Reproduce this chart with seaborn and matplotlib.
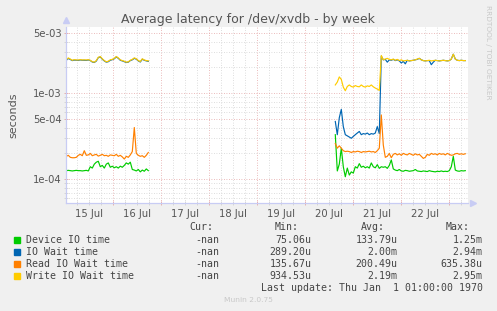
import pandas as pd
import seaborn as sns
import matplotlib.pyplot as plt
import matplotlib.dates as mdates
from matplotlib.ticker import FixedLocator, FuncFormatter, NullFormatter
from matplotlib.patches import Rectangle

# hourly samples (microseconds); munin had data in two stretches with a gap
left_start = "2024-07-15 00:30"
right_start = "2024-07-20 15:00"

device_left = [126, 127, 126, 125, 126, 127, 126, 126, 125, 126, 127, 125, 140, 135,
               150, 158, 162, 140, 145, 135, 150, 155, 138, 142, 136, 140, 135, 142,
               138, 145, 155, 150, 158, 130, 128, 125, 130, 122, 128, 124, 132, 126]
device_right = [330, 125, 150, 230, 140, 107, 135, 112, 122, 118, 140, 135, 152, 138,
                142, 136, 140, 135, 155, 140, 136, 148, 134, 140, 138, 140, 134, 145,
                168, 132, 128, 126, 130, 125, 124, 127, 126, 124, 125, 126, 130, 125,
                124, 123, 125, 124, 123, 126, 124, 123, 122, 124, 123, 125, 123, 124,
                123, 126, 140, 185, 128, 125, 124, 126, 125, 126]

iowait_left = [2420, 2540, 2470, 2400, 2430, 2420, 2410, 2440, 2420, 2420, 2410, 2440,
               2400, 2310, 2280, 2370, 2600, 2650, 2490, 2380, 2300, 2330, 2420, 2460,
               2520, 2650, 2550, 2420, 2380, 2330, 2280, 2300, 2400, 2450, 2550, 2490,
               2380, 2310, 2490, 2420, 2380, 2350]
iowait_right = [470, 330, 520, 650, 410, 330, 320, 310, 300, 315, 330, 345, 360, 330,
                340, 335, 345, 330, 340, 335, 345, 410, 340, 2700, 2450, 2480, 2300, 2450,
                2420, 2480, 2400, 2450, 2380, 2250, 2350, 2200, 2420, 2380, 2400, 2420,
                2450, 2480, 2550, 2450, 2400, 2380, 2400, 2400, 2150, 2300, 2420, 2400,
                2380, 2400, 2420, 2400, 2380, 2400, 2500, 2850, 2500, 2420, 2400, 2420,
                2400, 2400]

read_left = [185, 190, 180, 178, 178, 180, 190, 195, 188, 215, 190, 192, 200, 188,
             192, 195, 186, 190, 195, 188, 190, 185, 192, 190, 188, 195, 185, 190,
             182, 172, 185, 180, 192, 210, 400, 200, 190, 185, 188, 180, 190, 205]
read_right = [260, 230, 245, 230, 215, 210, 212, 210, 205, 210, 208, 212, 210, 205,
              210, 208, 210, 212, 208, 210, 205, 215, 230, 560, 250, 180, 185, 200,
              178, 195, 200, 192, 198, 190, 200, 195, 192, 200, 195, 190, 198, 192,
              195, 185, 175, 180, 195, 190, 200, 195, 198, 192, 200, 195, 198, 192,
              200, 195, 190, 192, 198, 200, 195, 198, 195, 198]

write_left = [2450, 2580, 2500, 2420, 2460, 2440, 2440, 2460, 2440, 2450, 2440, 2460,
              2420, 2330, 2300, 2400, 2620, 2680, 2520, 2400, 2320, 2360, 2450, 2480,
              2550, 2680, 2580, 2450, 2400, 2360, 2300, 2320, 2420, 2480, 2580, 2520,
              2400, 2340, 2520, 2440, 2400, 2380]
write_right = [1250, 1350, 1550, 1450, 1180, 1070, 1200, 1250, 1200, 1180, 1230, 1200,
               1190, 1250, 1200, 1180, 1220, 1200, 1250, 1190, 1150, 1120, 1080, 2750,
               2450, 2500, 2550, 2480, 2450, 2500, 2420, 2480, 2400, 2450, 2380, 2400,
               2420, 2380, 2400, 2420, 2450, 2500, 2550, 2450, 2400, 2380, 2400, 2420,
               2380, 2400, 2420, 2400, 2380, 2400, 2420, 2400, 2380, 2400, 2500, 2850,
               2500, 2420, 2400, 2420, 2400, 2400]

names = ["Device IO time", "IO Wait time", "Read IO Wait time", "Write IO Wait time"]
colors = ["#00CC00", "#0066B3", "#FF8000", "#FFCC00"]
cur = ["-nan", "-nan", "-nan", "-nan"]
mins = ["75.06u", "289.20u", "135.67u", "934.53u"]
avgs = ["133.79u", "2.00m", "200.49u", "2.19m"]
maxs = ["1.25m", "2.94m", "635.38u", "2.95m"]

series = {
    names[0]: (device_left, device_right),
    names[1]: (iowait_left, iowait_right),
    names[2]: (read_left, read_right),
    names[3]: (write_left, write_right),
}

frames = []
for name, (left, right) in series.items():
    for seg, start, vals in (("a", left_start, left), ("b", right_start, right)):
        t = pd.date_range(start, periods=len(vals), freq="h")
        frames.append(pd.DataFrame({"time": t, "seconds": [v / 1e6 for v in vals],
                                    "series": name, "segment": seg}))
df = pd.concat(frames, ignore_index=True)

W, H = 497, 311
fig = plt.figure(figsize=(W / 100, H / 100), dpi=100, facecolor="#F0F0F0")
ax = fig.add_axes([66 / W, (H - 203) / H, 402.3 / W, 175.5 / H])
ax.set_facecolor("white")

sns.lineplot(data=df, x="time", y="seconds", hue="series", units="segment",
             estimator=None, hue_order=names, palette=colors, legend=False,
             linewidth=0.85, ax=ax)

ax.set_yscale("log")
ax.set_ylim(5.30e-5, 5.82e-3)
ax.set_xlim(pd.Timestamp("2024-07-15 00:21"), pd.Timestamp("2024-07-23 09:30"))

# y grid: red at 1 and 5 per decade, grey at the rest
ax.yaxis.set_major_locator(FixedLocator([1e-4, 5e-4, 1e-3, 5e-3]))
ax.yaxis.set_major_formatter(FuncFormatter(lambda v, p: f"{v:.0e}"))
minor_y = [m * 10.0 ** e for e in (-5, -4, -3) for m in (2, 3, 4, 6, 7, 8, 9)]
ax.yaxis.set_minor_locator(FixedLocator(minor_y))
ax.yaxis.set_minor_formatter(NullFormatter())

# x grid: red at midnight, grey every 6 h, day labels at noon
ax.xaxis.set_major_locator(mdates.DayLocator())
ax.xaxis.set_major_formatter(NullFormatter())
ax.xaxis.set_minor_locator(mdates.HourLocator(byhour=[6, 12, 18]))
ax.xaxis.set_minor_formatter(FuncFormatter(
    lambda v, p: mdates.num2date(v).strftime("%d %b") if mdates.num2date(v).hour == 12 else ""))

dots = (0, (1, 2))
ax.grid(which="major", color="#E4A4A4", linestyle=dots, linewidth=0.6)
ax.grid(which="minor", color="#D2D2D2", linestyle=dots, linewidth=0.6)
ax.tick_params(which="major", direction="inout", length=3, width=0.6, color="#E4A4A4",
               labelsize=7.2, labelcolor="#555555", pad=1.5)
ax.tick_params(which="minor", direction="inout", length=3, width=0.6, color="#D2D2D2",
               labelsize=7.2, labelcolor="#555555", pad=2.5)
ax.set_xlabel("")
ax.set_ylabel("seconds", fontsize=8, color="#555555", labelpad=11)

for s in ("top", "right"):
    ax.spines[s].set_visible(False)
for s in ("left", "bottom"):
    ax.spines[s].set_color("#C8CCF4")
    ax.spines[s].set_linewidth(0.9)
ax.plot([0], [1.04], marker="^", markersize=4, color="#C8CCF4", transform=ax.transAxes, clip_on=False)
ax.plot([1.012], [0], marker=">", markersize=4, color="#C8CCF4", transform=ax.transAxes, clip_on=False)

fig.text(248 / W, 1 - 19 / H, "Average latency for /dev/xvdb - by week",
         ha="center", va="center", fontsize=9, color="#555555")
fig.text(488 / W, 1 - 52 / H, "RRDTOOL / TOBI OETIKER", rotation=270,
         ha="center", va="center", fontsize=5.3, color="#C8C8C8")

mono = dict(family="DejaVu Sans Mono", fontsize=7.15, color="#444444", va="center")


def put(x, y, s, ha="left", **kw):
    fig.text(x / W, 1 - y / H, s, ha=ha, **{**mono, **kw})


put(213, 227, "Cur:", "right")
put(299, 227, "Min:", "right")
put(385, 227, "Avg:", "right")
put(470, 227, "Max:", "right")
for i, name in enumerate(names):
    y = 240 + 12 * i
    fig.patches.append(Rectangle((14 / W, 1 - (y + 3) / H), 6 / W, 6 / H,
                                 transform=fig.transFigure, color=colors[i]))
    put(26, y, name)
    put(219.7, y, cur[i], "right")
    put(311.7, y, mins[i], "right")
    put(397.3, y, avgs[i], "right")
    put(482.7, y, maxs[i], "right")
put(482.7, 288, "Last update: Thu Jan  1 01:00:00 1970", "right")
fig.text(248 / W, 1 - 300.5 / H, "Munin 2.0.75", ha="center", va="center",
         fontsize=5.4, color="#C8C8C8")

fig.savefig("out.png", dpi=100, facecolor=fig.get_facecolor())
